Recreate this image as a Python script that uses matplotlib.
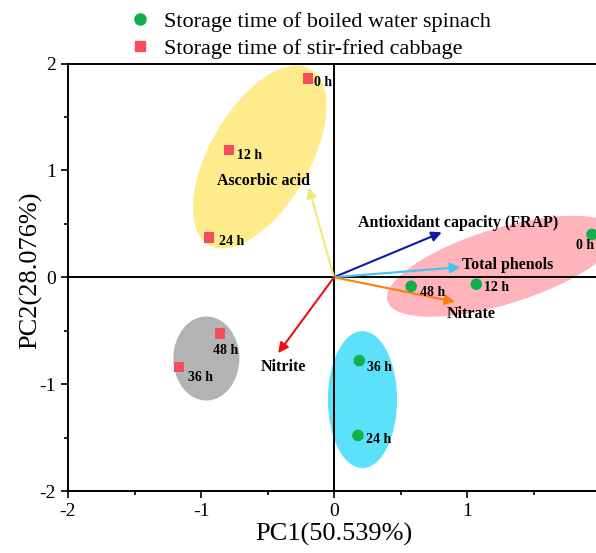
import matplotlib
matplotlib.use("Agg")
import matplotlib.pyplot as plt
from matplotlib.patches import Ellipse
from matplotlib.lines import Line2D
from matplotlib.transforms import Affine2D

plt.rcParams['font.family'] = ['Liberation Serif', 'DejaVu Serif']
plt.rcParams['axes.unicode_minus'] = False

# Data
spinach_labels = ["0 h", "12 h", "48 h", "36 h", "24 h"]
spinach_x = [1.94, 1.07, 0.58, 0.19, 0.18]
spinach_y = [0.40, -0.065, -0.085, -0.78, -1.48]

cabbage_labels = ["0 h", "12 h", "24 h", "48 h", "36 h"]
cabbage_x = [-0.195, -0.79, -0.94, -0.857, -1.165]
cabbage_y = [1.86, 1.19, 0.37, -0.523, -0.84]

loading_names = ["Ascorbic acid", "Antioxidant capacity (FRAP)", "Total phenols", "Nitrate", "Nitrite"]
loading_x = [-0.19, 0.81, 0.95, 0.91, -0.42]
loading_y = [0.84, 0.42, 0.095, -0.23, -0.71]
loading_colors = ["#eee87a", "#0f1aa8", "#3ec3f5", "#ff7f0e", "#ee1111"]

# Confidence ellipses: center (data), width/height in x-axis units, angle on screen
ell_cx = [-0.559, 1.263, -0.96, 0.214]
ell_cy = [1.126, 0.103, -0.76, -1.145]
ell_w = [1.53, 1.80, 0.496, 0.52]
ell_h = [0.75, 0.571, 0.632, 1.03]
ell_ang = [60, 17, 0, 0]
ell_colors = ["#fdeb8c", "#ffb3ba", "#b3b3b3", "#5ce1fa"]

W, H = 596, 553
fig = plt.figure(figsize=(W/100, H/100), dpi=100)
left_px, right_px, top_px, bot_px = 68, 600, 63.5, 491
ax = fig.add_axes([left_px/W, 1-bot_px/H, (right_px-left_px)/W, (bot_px-top_px)/H])
ax.set_xlim(-2, 2)
ax.set_ylim(-2, 2)

# isotropic space: ux = x, uy = y * k
k = ((bot_px - top_px) / 4) / ((right_px - left_px) / 4)
iso = Affine2D().scale(1, 1/k) + ax.transData
for cx, cy, w, h, a, c in zip(ell_cx, ell_cy, ell_w, ell_h, ell_ang, ell_colors):
    ax.add_patch(Ellipse((cx, cy*k), w, h, angle=a, facecolor=c, edgecolor='none',
                         transform=iso, zorder=1))

ax.axhline(0, color='black', lw=1.4, zorder=2)
ax.axvline(0, color='black', lw=1.4, zorder=2)

for lx, ly, c in zip(loading_x, loading_y, loading_colors):
    ax.annotate('', xy=(lx, ly), xytext=(0, 0),
                arrowprops=dict(arrowstyle='-|>', color=c, lw=1.5, mutation_scale=15,
                                shrinkA=0, shrinkB=0), zorder=3)

ax.scatter(spinach_x, spinach_y, marker='o', s=70, color='#12b04a', edgecolor='none', zorder=4)
ax.scatter(cabbage_x, cabbage_y, marker='s', s=60, color='#f64c5c', edgecolor='none', zorder=4)

# point labels
sp_off = [(-0.12, -0.10), (0.058, -0.03), (0.067, -0.055), (0.058, -0.06), (0.058, -0.04)]
for lab, x, y, (dx, dy) in zip(spinach_labels, spinach_x, spinach_y, sp_off):
    ax.text(x + dx, y + dy, lab, fontsize=10, fontweight='bold', ha='left', va='center', zorder=5)
cb_off = [(0.045, -0.04), (0.06, -0.05), (0.075, -0.04), (-0.05, -0.16), (0.065, -0.095)]
for lab, x, y, (dx, dy) in zip(cabbage_labels, cabbage_x, cabbage_y, cb_off):
    ax.text(x + dx, y + dy, lab, fontsize=10, fontweight='bold', ha='left', va='center', zorder=5)

# loading labels
ax.text(-0.53, 0.90, loading_names[0], fontsize=11.5, fontweight='bold', ha='center', va='center', zorder=5)
ax.text(0.18, 0.51, loading_names[1], fontsize=11.5, fontweight='bold', ha='left', va='center', zorder=5)
ax.text(0.96, 0.11, loading_names[2], fontsize=11.5, fontweight='bold', ha='left', va='center', zorder=5)
ax.text(1.03, -0.34, loading_names[3], fontsize=11.5, fontweight='bold', ha='center', va='center', zorder=5)
ax.text(-0.38, -0.84, loading_names[4], fontsize=11.5, fontweight='bold', ha='center', va='center', zorder=5)

ax.set_xticks([-2, -1, 0, 1, 2])
ax.set_yticks([-2, -1, 0, 1, 2])
ax.set_xticks([-1.5, -0.5, 0.5, 1.5], minor=True)
ax.set_yticks([-1.5, -0.5, 0.5, 1.5], minor=True)
ax.tick_params(which='major', direction='out', length=5, width=1.2, labelsize=14, colors='black')
ax.tick_params(which='minor', direction='out', length=3, width=1.2)
for s in ['left', 'bottom', 'top', 'right']:
    ax.spines[s].set_linewidth(1.4)

ax.set_xlabel("PC1(50.539%)", fontsize=19, labelpad=2)
ax.set_ylabel("PC2(28.076%)", fontsize=19)
ax.yaxis.set_label_coords((42-left_px)/(right_px-left_px), (bot_px-270)/(bot_px-top_px))

handles = [Line2D([], [], marker='o', ls='none', color='#12b04a', markersize=8),
           Line2D([], [], marker='s', ls='none', color='#f64c5c', markersize=7.5)]
fig.legend(handles, ["Storage time of boiled water spinach", "Storage time of stir-fried cabbage"],
           loc='upper left', bbox_to_anchor=(112/W, 1.0), frameon=False, fontsize=16,
           handletextpad=0.35, labelspacing=0.3, borderaxespad=0.1, handlelength=1.5)

fig.savefig("out.png", dpi=100)
